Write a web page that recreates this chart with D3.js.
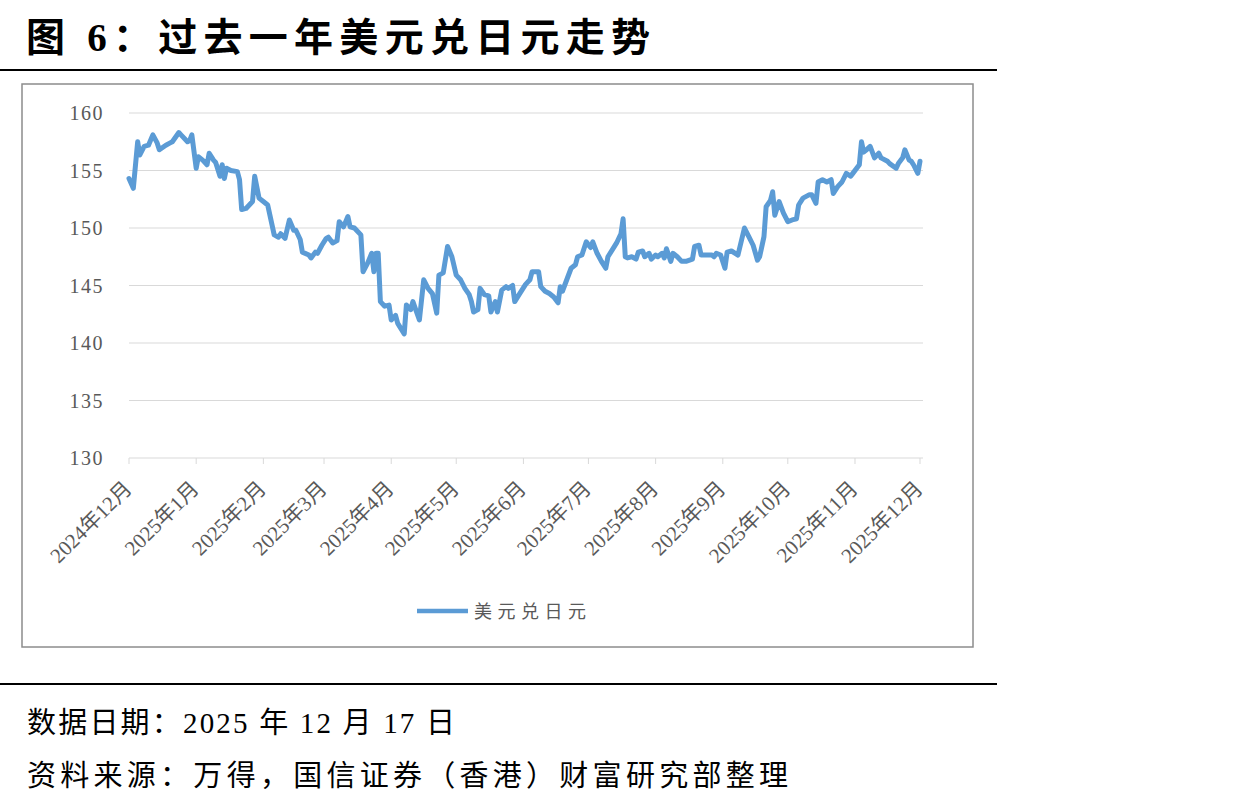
<!DOCTYPE html>
<head>
  <meta charset="utf-8">
  <script src="https://d3js.org/d3.v7.min.js"></script>
  <style>
    body { margin: 0; background: #fff; }
    .grid line { stroke: #d9d9d9; stroke-width: 1px; }
    .line { fill: none; stroke: #5b9bd5; stroke-width: 5px; stroke-linejoin: round; stroke-linecap: round; }
  </style>
</head>

<body>
  <script>

    // 美元兑日元
    var dates = [
      "2024-12-17","2024-12-19","2024-12-21","2024-12-22","2024-12-24","2024-12-26","2024-12-28","2024-12-30","2024-12-31",
      "2025-01-03","2025-01-05","2025-01-06","2025-01-09","2025-01-10","2025-01-13","2025-01-14","2025-01-15","2025-01-17",
      "2025-01-18","2025-01-20","2025-01-22","2025-01-23","2025-01-25","2025-01-26","2025-01-28","2025-01-29","2025-01-30","2025-01-31",
      "2025-02-02","2025-02-05","2025-02-06","2025-02-07","2025-02-09","2025-02-12","2025-02-13","2025-02-15","2025-02-17","2025-02-19",
      "2025-02-22","2025-02-24","2025-02-25","2025-02-27",
      "2025-03-01","2025-03-03","2025-03-04","2025-03-06","2025-03-07","2025-03-10","2025-03-11","2025-03-13","2025-03-14","2025-03-16",
      "2025-03-18","2025-03-19","2025-03-21","2025-03-23","2025-03-24","2025-03-26","2025-03-28","2025-03-29","2025-03-31",
      "2025-04-03","2025-04-04","2025-04-06","2025-04-08","2025-04-09","2025-04-10","2025-04-11","2025-04-12","2025-04-14","2025-04-16",
      "2025-04-17","2025-04-19","2025-04-20","2025-04-23","2025-04-24","2025-04-26","2025-04-27","2025-04-30",
      "2025-05-02","2025-05-04","2025-05-06","2025-05-08","2025-05-09","2025-05-11","2025-05-13","2025-05-15","2025-05-17","2025-05-19",
      "2025-05-21","2025-05-23","2025-05-24","2025-05-25","2025-05-27","2025-05-28","2025-05-30",
      "2025-06-01","2025-06-02","2025-06-04","2025-06-05","2025-06-07","2025-06-09","2025-06-10","2025-06-12","2025-06-13","2025-06-15",
      "2025-06-18","2025-06-20","2025-06-21","2025-06-24","2025-06-25","2025-06-27","2025-06-29",
      "2025-07-01","2025-07-03","2025-07-04","2025-07-05","2025-07-07","2025-07-09","2025-07-11","2025-07-12","2025-07-14","2025-07-16",
      "2025-07-18","2025-07-19","2025-07-21","2025-07-23","2025-07-25","2025-07-26","2025-07-29","2025-07-30",
      "2025-08-01","2025-08-02","2025-08-03","2025-08-04","2025-08-06","2025-08-08","2025-08-09","2025-08-11","2025-08-12","2025-08-14",
      "2025-08-15","2025-08-17","2025-08-18","2025-08-20","2025-08-21","2025-08-22","2025-08-24","2025-08-25","2025-08-27","2025-08-29","2025-08-31",
      "2025-09-03","2025-09-04","2025-09-06","2025-09-07","2025-09-10","2025-09-12","2025-09-13","2025-09-14","2025-09-16","2025-09-18",
      "2025-09-19","2025-09-21","2025-09-24","2025-09-27","2025-09-29",
      "2025-10-01","2025-10-03","2025-10-04","2025-10-06","2025-10-07","2025-10-09","2025-10-10","2025-10-11","2025-10-13","2025-10-15",
      "2025-10-17","2025-10-19","2025-10-21","2025-10-22","2025-10-24","2025-10-27","2025-10-28","2025-10-30","2025-10-31",
      "2025-11-02","2025-11-04","2025-11-06","2025-11-07","2025-11-09","2025-11-11","2025-11-13","2025-11-15","2025-11-16","2025-11-19",
      "2025-11-20","2025-11-21","2025-11-22","2025-11-24","2025-11-26","2025-11-28","2025-11-29",
      "2025-12-02","2025-12-03","2025-12-06","2025-12-07","2025-12-09","2025-12-10","2025-12-12","2025-12-13","2025-12-14","2025-12-16","2025-12-17"
    ];

    var usdjpy = [
      154.3,153.45,157.5,156.35,157.1,157.2,158.1,157.4,156.8,
      157.2,157.4,157.5,158.3,158.1,157.5,157.6,158.1,155.2,
      156.2,155.9,155.5,156.5,155.9,155.7,154.5,155.5,154.3,155.2,
      155.0,154.9,154.2,151.6,151.7,152.3,154.5,152.6,152.3,152.0,
      149.4,149.2,149.5,149.1,
      150.7,149.8,149.8,149.0,147.9,147.65,147.4,147.9,147.8,148.5,
      149.1,149.2,148.7,148.9,150.55,150.1,151.0,150.1,150.0,
      149.4,146.2,146.9,147.8,146.2,147.8,147.8,143.6,143.2,143.3,
      142.0,142.4,141.7,140.8,143.3,142.9,143.6,142.0,
      145.5,144.75,144.3,142.6,145.9,146.1,148.4,147.5,145.9,145.5,
      144.75,144.2,143.6,142.7,142.9,144.75,144.2,
      144.1,142.7,143.6,142.7,144.6,144.9,144.75,145.0,143.6,144.2,
      145.1,145.5,146.2,146.2,144.9,144.5,144.3,
      144.0,143.5,144.9,144.5,145.5,146.5,146.8,147.5,147.65,148.8,
      148.3,148.8,147.8,147.1,146.5,147.5,148.4,148.7,
      149.5,150.8,147.5,147.4,147.5,147.3,147.9,148.0,147.5,147.8,
      147.3,147.65,147.5,147.8,147.4,148.2,147.1,147.8,147.5,147.1,147.1,
      147.3,148.4,148.5,147.65,147.65,147.65,147.5,147.8,147.65,146.5,
      147.9,148.0,147.65,150.0,149.25,
      148.5,147.2,147.5,149.25,151.85,152.4,153.15,151.1,152.3,151.3,
      150.55,150.7,150.8,152.0,152.6,152.9,152.9,152.15,154.0,
      154.2,154.0,154.2,153.0,153.6,154.0,154.75,154.5,154.75,155.5,
      157.5,156.6,156.75,157.1,156.1,156.5,156.1,
      155.8,155.6,155.2,155.6,156.1,156.8,155.9,155.8,155.5,154.75,155.8
    ];

    var yTicks = [130, 135, 140, 145, 150, 155, 160];
    var xTicks = ["2024-12-17","2025-01-17","2025-02-17","2025-03-17","2025-04-17","2025-05-17",
                  "2025-06-17","2025-07-17","2025-08-17","2025-09-17","2025-10-17","2025-11-17","2025-12-17"];

    var parseDate = d3.timeParse("%Y-%m-%d");
    var displayMonth = d3.timeFormat("%Y年%-m月");

    var data = dates.map(function(d, i) { return { date: parseDate(d), value: usdjpy[i] }; });

    var svg = d3.select("body").append("svg")
      .attr("width", 1259)
      .attr("height", 804);

    var serif = "'Liberation Serif', 'Noto Sans CJK SC', serif";
    var cjk = "'Liberation Serif', 'Noto Sans CJK SC', sans-serif";

    // title + rules
    svg.append("text")
      .text("图 6：过去一年美元兑日元走势")
      .attr("x", 26)
      .attr("y", 51)
      .attr("textLength", 624)
      .attr("lengthAdjust", "spacing")
      .style("font-family", cjk)
      .style("font-size", "39px")
      .style("font-weight", "bold")
      .style("fill", "#000");

    svg.append("line").attr("x1", 0).attr("x2", 997).attr("y1", 70).attr("y2", 70)
      .attr("stroke", "#000").attr("stroke-width", 2);
    svg.append("line").attr("x1", 0).attr("x2", 997).attr("y1", 684).attr("y2", 684)
      .attr("stroke", "#000").attr("stroke-width", 2);

    // chart frame
    svg.append("rect")
      .attr("x", 22).attr("y", 84)
      .attr("width", 951).attr("height", 563)
      .attr("fill", "#fff")
      .attr("stroke", "#8c8c8c")
      .attr("stroke-width", 1.5);

    var x = d3.scaleTime()
      .domain([parseDate("2024-12-17"), parseDate("2025-12-17")])
      .range([129, 920]);

    var y = d3.scaleLinear()
      .domain([130, 160])
      .range([458, 113]);

    // gridlines
    svg.append("g").attr("class", "grid")
      .selectAll("line").data(yTicks).enter()
      .append("line")
        .attr("x1", 129)
        .attr("x2", 923)
        .attr("y1", function(d) { return y(d); })
        .attr("y2", function(d) { return y(d); });

    // y labels
    svg.selectAll(".ylabel").data(yTicks).enter()
      .append("text")
        .attr("class", "ylabel")
        .text(function(d) { return d; })
        .attr("x", 104)
        .attr("y", function(d) { return y(d) + 7; })
        .attr("text-anchor", "end")
        .style("font-family", serif)
        .style("font-size", "20px")
        .style("letter-spacing", "1.5px")
        .style("fill", "#595959");

    // x axis ticks
    svg.selectAll(".xtick").data(xTicks).enter()
      .append("line")
        .attr("class", "xtick")
        .attr("x1", function(d) { return x(parseDate(d)); })
        .attr("x2", function(d) { return x(parseDate(d)); })
        .attr("y1", 458)
        .attr("y2", 464)
        .attr("stroke", "#d9d9d9");

    svg.selectAll(".xlabel").data(xTicks).enter()
      .append("text")
        .attr("class", "xlabel")
        .text(function(d) { return displayMonth(parseDate(d)); })
        .attr("text-anchor", "end")
        .attr("transform", function(d) {
          return "translate(" + (x(parseDate(d)) + 4) + ",490) rotate(-45)";
        })
        .style("font-family", serif)
        .style("font-size", "21px")
        .style("fill", "#595959");

    var line = d3.line()
      .x(function(d) { return x(d.date); })
      .y(function(d) { return y(d.value); });

    svg.append("path")
      .datum(data)
      .attr("class", "line")
      .attr("d", line);

    // legend
    svg.append("line")
      .attr("x1", 417).attr("x2", 468)
      .attr("y1", 611).attr("y2", 611)
      .attr("stroke", "#5b9bd5")
      .attr("stroke-width", 4.5);

    svg.append("text")
      .text("美元兑日元")
      .attr("x", 474)
      .attr("y", 618)
      .attr("textLength", 112)
      .attr("lengthAdjust", "spacing")
      .style("font-family", cjk)
      .style("font-size", "18px")
      .style("fill", "#595959");

    // footer
    svg.append("text")
      .text("数据日期：2025 年 12 月 17 日")
      .attr("x", 27)
      .attr("y", 733)
      .attr("textLength", 428)
      .attr("lengthAdjust", "spacing")
      .style("font-family", cjk)
      .style("font-size", "29px")
      .style("fill", "#000");

    svg.append("text")
      .text("资料来源：万得，国信证券（香港）财富研究部整理")
      .attr("x", 27)
      .attr("y", 786)
      .attr("textLength", 761)
      .attr("lengthAdjust", "spacing")
      .style("font-family", cjk)
      .style("font-size", "29px")
      .style("fill", "#000");

  </script>
</body>
